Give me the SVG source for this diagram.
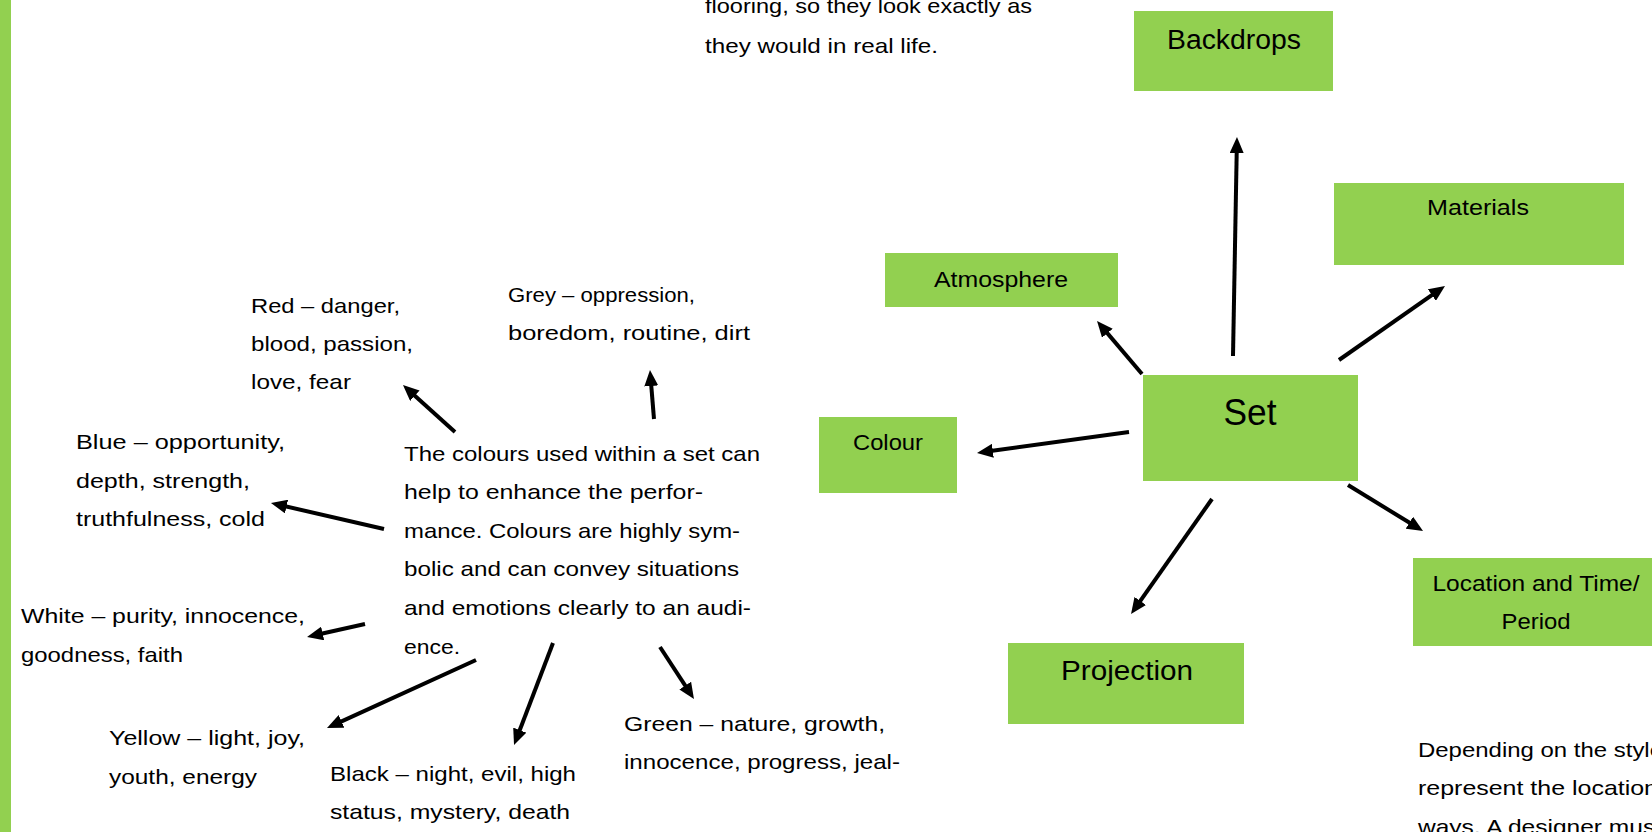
<svg xmlns="http://www.w3.org/2000/svg" width="1652" height="832" viewBox="0 0 1652 832">
<defs>
<marker id="ah" markerUnits="userSpaceOnUse" markerWidth="16" markerHeight="14" refX="6" refY="7" orient="auto">
<path d="M0,0 L16,7 L0,14 z" fill="#000"/>
</marker>
<style>
.box{fill:#92D050}
.t{font-family:"Liberation Sans",Arial,sans-serif;font-size:21px;fill:#000}
.lb{font-family:"Liberation Sans",Arial,sans-serif;font-size:22px;fill:#000;text-anchor:middle}
.lg{font-family:"Liberation Sans",Arial,sans-serif;font-size:27px;fill:#000;text-anchor:middle}
.conn line{stroke:#000;stroke-width:4;marker-end:url(#ah)}
</style>
</defs>
<rect width="1652" height="832" fill="#fff"/>
<rect x="0" y="0" width="11" height="832" fill="#92D050"/>

<g id="node-set"><rect class="box" x="1143" y="375" width="215" height="106"/><text class="lb" x="1250" y="425" style="font-size:36px" textLength="53" lengthAdjust="spacingAndGlyphs">Set</text></g>
<g id="node-backdrops"><rect class="box" x="1134" y="11" width="199" height="80"/><text class="lg" x="1234" y="49" textLength="134" lengthAdjust="spacingAndGlyphs">Backdrops</text></g>
<g id="node-materials"><rect class="box" x="1334" y="183" width="290" height="82"/><text class="lb" x="1478" y="215" textLength="102" lengthAdjust="spacingAndGlyphs">Materials</text></g>
<g id="node-atmosphere"><rect class="box" x="885" y="253" width="233" height="54"/><text class="lb" x="1001" y="287" textLength="134" lengthAdjust="spacingAndGlyphs">Atmosphere</text></g>
<g id="node-colour"><rect class="box" x="819" y="417" width="138" height="76"/><text class="lb" x="888" y="450" textLength="70" lengthAdjust="spacingAndGlyphs">Colour</text></g>
<g id="node-location"><rect class="box" x="1413" y="558" width="250" height="88"/><text class="lb" x="1536" y="591" textLength="207" lengthAdjust="spacingAndGlyphs">Location and Time/</text><text class="lb" x="1536" y="629" textLength="69" lengthAdjust="spacingAndGlyphs">Period</text></g>
<g id="node-projection"><rect class="box" x="1008" y="643" width="236" height="81"/><text class="lg" x="1127" y="680" textLength="132" lengthAdjust="spacingAndGlyphs">Projection</text></g>

<g id="text-top" class="t">
<text x="705" y="13" textLength="327" lengthAdjust="spacingAndGlyphs">flooring, so they look exactly as</text>
<text x="705" y="53" textLength="233" lengthAdjust="spacingAndGlyphs">they would in real life.</text>
</g>
<g id="text-colours" class="t">
<text x="404" y="461" textLength="356" lengthAdjust="spacingAndGlyphs">The colours used within a set can</text>
<text x="404" y="499" textLength="299" lengthAdjust="spacingAndGlyphs">help to enhance the perfor-</text>
<text x="404" y="538" textLength="336" lengthAdjust="spacingAndGlyphs">mance. Colours are highly sym-</text>
<text x="404" y="576" textLength="335" lengthAdjust="spacingAndGlyphs">bolic and can convey situations</text>
<text x="404" y="615" textLength="347" lengthAdjust="spacingAndGlyphs">and emotions clearly to an audi-</text>
<text x="404" y="654" textLength="56" lengthAdjust="spacingAndGlyphs">ence.</text>
</g>
<g id="text-red" class="t">
<text x="251" y="313" textLength="149" lengthAdjust="spacingAndGlyphs">Red – danger,</text>
<text x="251" y="351" textLength="162" lengthAdjust="spacingAndGlyphs">blood, passion,</text>
<text x="251" y="389" textLength="100" lengthAdjust="spacingAndGlyphs">love, fear</text>
</g>
<g id="text-grey" class="t">
<text x="508" y="302" textLength="187" lengthAdjust="spacingAndGlyphs">Grey – oppression,</text>
<text x="508" y="340" textLength="242" lengthAdjust="spacingAndGlyphs">boredom, routine, dirt</text>
</g>
<g id="text-blue" class="t">
<text x="76" y="449" textLength="209" lengthAdjust="spacingAndGlyphs">Blue – opportunity,</text>
<text x="76" y="488" textLength="174" lengthAdjust="spacingAndGlyphs">depth, strength,</text>
<text x="76" y="526" textLength="189" lengthAdjust="spacingAndGlyphs">truthfulness, cold</text>
</g>
<g id="text-white" class="t">
<text x="21" y="623" textLength="284" lengthAdjust="spacingAndGlyphs">White – purity, innocence,</text>
<text x="21" y="662" textLength="162" lengthAdjust="spacingAndGlyphs">goodness, faith</text>
</g>
<g id="text-yellow" class="t">
<text x="109" y="745" textLength="196" lengthAdjust="spacingAndGlyphs">Yellow – light, joy,</text>
<text x="109" y="784" textLength="148" lengthAdjust="spacingAndGlyphs">youth, energy</text>
</g>
<g id="text-black" class="t">
<text x="330" y="781" textLength="246" lengthAdjust="spacingAndGlyphs">Black – night, evil, high</text>
<text x="330" y="819" textLength="240" lengthAdjust="spacingAndGlyphs">status, mystery, death</text>
</g>
<g id="text-green" class="t">
<text x="624" y="731" textLength="261" lengthAdjust="spacingAndGlyphs">Green – nature, growth,</text>
<text x="624" y="769" textLength="276" lengthAdjust="spacingAndGlyphs">innocence, progress, jeal-</text>
</g>
<g id="text-location" class="t">
<text x="1418" y="757" textLength="245" lengthAdjust="spacingAndGlyphs">Depending on the style</text>
<text x="1418" y="795" textLength="240" lengthAdjust="spacingAndGlyphs">represent the location</text>
<text x="1418" y="834" textLength="244" lengthAdjust="spacingAndGlyphs">ways. A designer must</text>
</g>

<g id="connectors" class="conn">
<line x1="1233" y1="356" x2="1236.8" y2="147"/>
<line x1="1142" y1="374" x2="1103.5" y2="328.6"/>
<line x1="1339" y1="360" x2="1436.8" y2="291.7"/>
<line x1="1129" y1="432" x2="986.9" y2="451.6"/>
<line x1="1212" y1="499" x2="1136.8" y2="605.8"/>
<line x1="1348" y1="485" x2="1414.5" y2="525.8"/>
<line x1="455" y1="432" x2="410.4" y2="391.7"/>
<line x1="654" y1="419" x2="650.8" y2="380"/>
<line x1="384" y1="529" x2="280.7" y2="505.2"/>
<line x1="365" y1="624" x2="316.8" y2="634.8"/>
<line x1="476" y1="660" x2="336.1" y2="723.9"/>
<line x1="553" y1="643" x2="517.6" y2="735.7"/>
<line x1="660" y1="647" x2="688.5" y2="690.6"/>
</g>
</svg>
